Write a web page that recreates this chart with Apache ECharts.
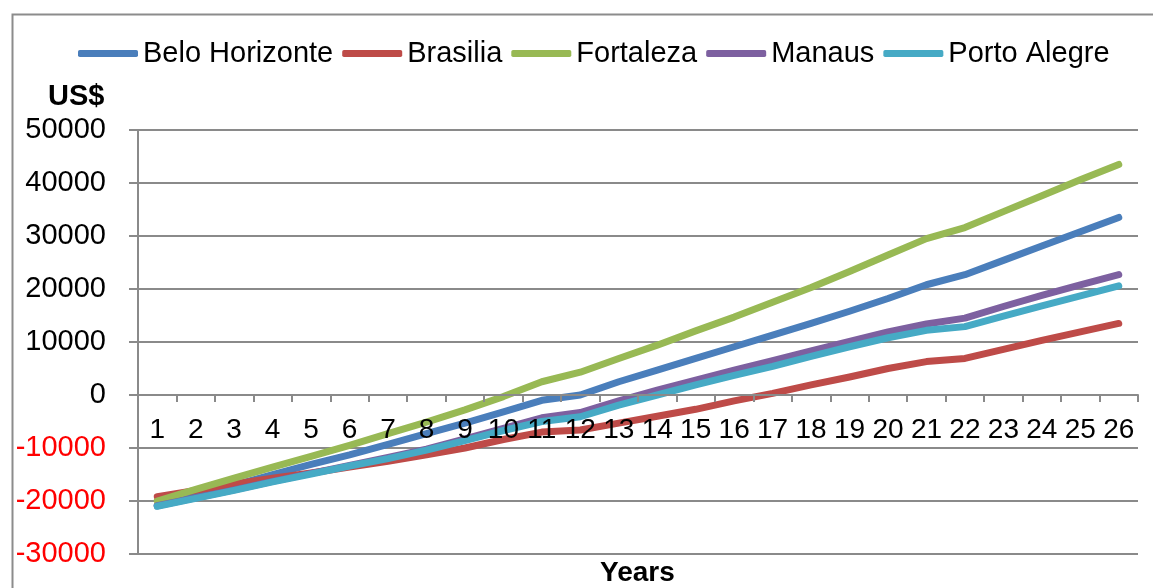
<!DOCTYPE html>
<html>
<head>
<meta charset="utf-8">
<script src="https://cdn.jsdelivr.net/npm/echarts@6/dist/echarts.min.js"></script>
<style>
html,body{margin:0;padding:0;background:#fff;}
#chart{width:1153px;height:588px;}
</style>
</head>
<body>
<div id="chart"></div>
<script>
var years = ['1','2','3','4','5','6','7','8','9','10','11','12','13','14','15','16','17','18','19','20','21','22','23','24','25','26'];
var seriesNames = ['Belo Horizonte','Brasilia','Fortaleza','Manaus','Porto Alegre'];
var beloHorizonte = [-20900,-18900,-17000,-15000,-13100,-11300,-9300,-7300,-5300,-3200,-1000,0,2500,4700,6900,9100,11300,13500,15800,18200,20800,22700,25400,28100,30800,33500];
var brasilia = [-19200,-18000,-16800,-15700,-14700,-13600,-12500,-11300,-10000,-8400,-7000,-6600,-5300,-4000,-2700,-1100,300,1900,3400,5000,6300,6900,8600,10300,11900,13500];
var fortaleza = [-20000,-17800,-15700,-13600,-11600,-9500,-7300,-5100,-2800,-300,2500,4300,6900,9400,12100,14700,17500,20300,23300,26400,29500,31600,34600,37600,40600,43500];
var manaus = [-20900,-19400,-17900,-16300,-14800,-13300,-11800,-10200,-8300,-6300,-4300,-3300,-1100,900,2800,4700,6500,8300,10100,11900,13400,14500,16700,18800,20800,22700];
var portoAlegre = [-21000,-19500,-18000,-16400,-14900,-13400,-12000,-10400,-8600,-6700,-5000,-4100,-1900,0,1900,3700,5400,7300,9100,10800,12200,12900,14900,16800,18700,20600];
var colors = ['#4A7EBB','#BE4B48','#98B954','#7D60A0','#46AAC5'];

var font = "'Liberation Sans', Arial, sans-serif";
var gridColor = '#8a8a8a';
var allData = [beloHorizonte, brasilia, fortaleza, manaus, portoAlegre];

var chart = echarts.init(document.getElementById('chart'), null, {renderer:'canvas'});
chart.setOption({
  animation: false,
  color: colors,
  textStyle: {fontFamily: font},
  legend: {
    left: 78, top: 39, padding: 0,
    icon: 'roundRect',
    itemWidth: 60, itemHeight: 7, itemGap: 9,
    textStyle: {fontSize: 29, color: '#000', fontFamily: font},
    data: seriesNames
  },
  grid: {left: 138, right: 15, top: 130, bottom: 34, containLabel: false, outerBoundsMode: 'none'},
  xAxis: {
    type: 'category',
    data: years,
    boundaryGap: true,
    position: 'bottom',
    offset: -159,
    z: 5,
    axisLine: {onZero: false, lineStyle: {color: gridColor, width: 2}},
    axisTick: {show: true, length: 7, alignWithLabel: false, lineStyle: {color: gridColor, width: 2}},
    axisLabel: {interval: 0, margin: 21, fontSize: 28, color: '#000', fontFamily: font, hideOverlap: false},
    splitLine: {show: false}
  },
  yAxis: {
    type: 'value',
    min: -30000, max: 50000, interval: 10000,
    axisLine: {show: true, lineStyle: {color: gridColor, width: 2}},
    axisTick: {show: true, length: 9, lineStyle: {color: gridColor, width: 2}},
    axisLabel: {
      margin: 32, fontSize: 29, fontFamily: font,
      formatter: function (v) { return String(v); },
      color: function (v) { return Number(v) < 0 ? '#FF0000' : '#000'; }
    },
    splitLine: {show: true, lineStyle: {color: gridColor, width: 2}}
  },
  graphic: [
    {type: 'rect', left: 10, top: 12, shape: {width: 1170, height: 620}, style: {fill: 'none', stroke: '#8c8c8c', lineWidth: 2}, silent: true, z: -1},
    {type: 'text', left: 48, top: 82, style: {text: 'US$', font: 'bold 29px ' + font, fill: '#000'}},
    {type: 'text', left: 600, top: 559, style: {text: 'Years', font: 'bold 28px ' + font, fill: '#000'}}
  ],
  series: seriesNames.map(function (name, i) {
    return {
      name: name,
      type: 'line',
      data: allData[i],
      symbol: 'none',
      smooth: false,
      z: 2,
      lineStyle: {width: 7, cap: 'round', join: 'round', color: colors[i]},
      itemStyle: {color: colors[i]}
    };
  })
});
</script>
</body>
</html>
